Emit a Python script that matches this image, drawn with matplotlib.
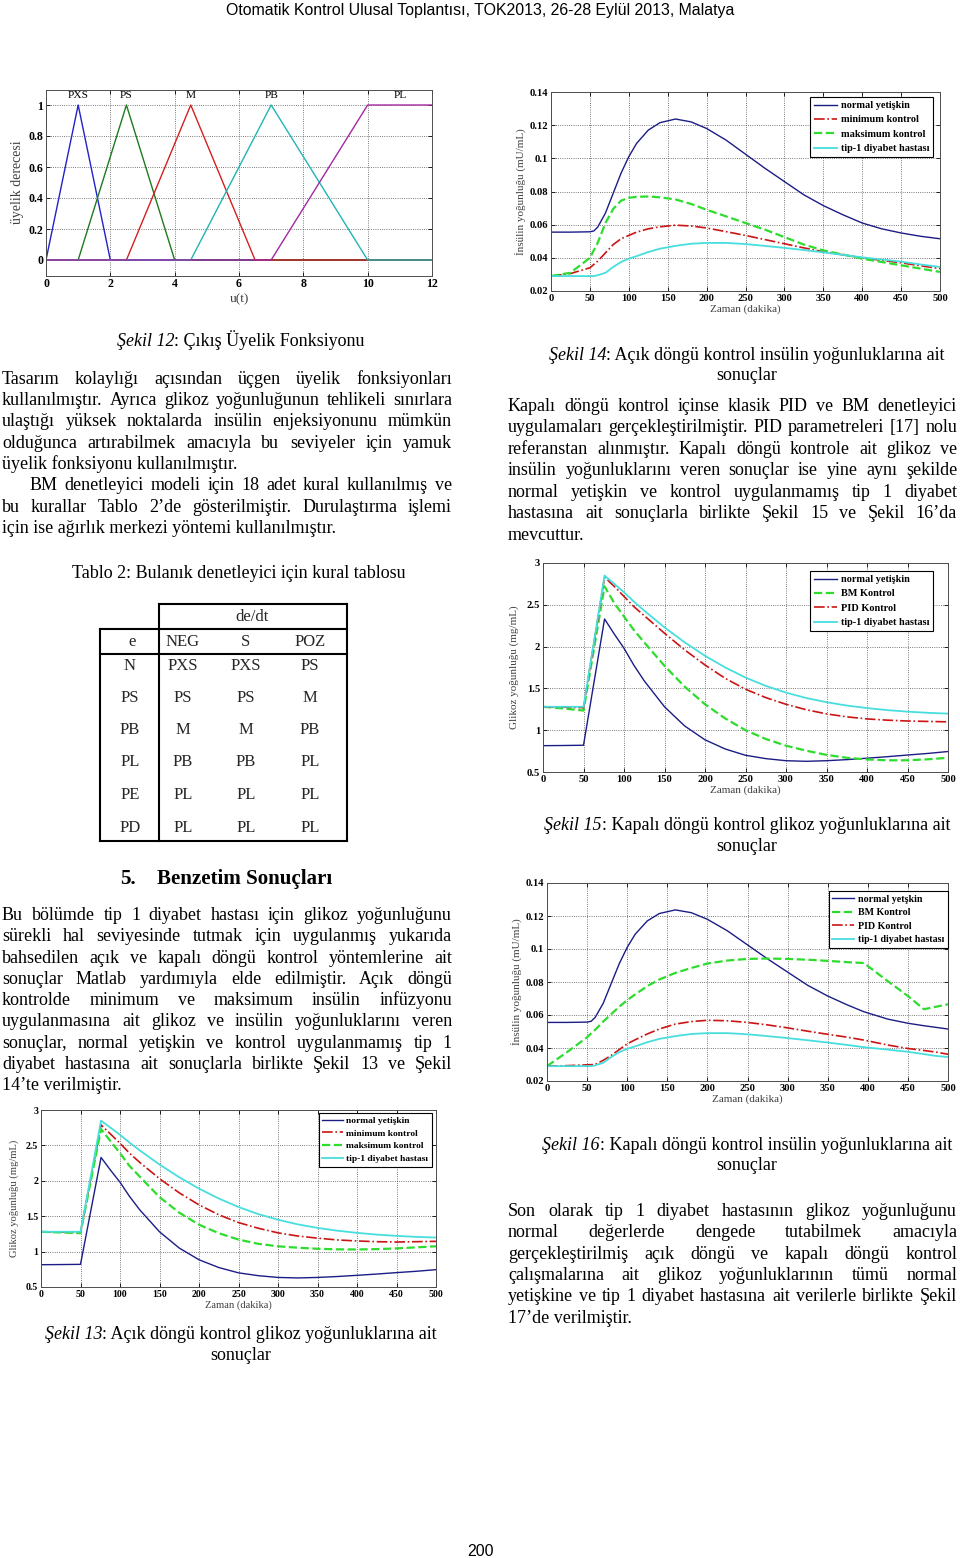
import numpy as np
import matplotlib
matplotlib.use('Agg')
import matplotlib.pyplot as plt
from matplotlib.lines import Line2D

W, H = 960, 1558
plt.rcParams['font.family'] = 'Liberation Serif'

# ---------------- data ----------------
# output membership functions (Sekil 12)
mf_names = ['PXS', 'PS', 'M', 'PB', 'PL']
mf_left = [0, 1, 2.5, 4.5, 7]
mf_peak = [1, 2.5, 4.5, 7, 10]
mf_right = [2, 4, 6.5, 10, 12]
mf_label_x = [1, 2.5, 4.5, 7, 11]

# glucose, open / closed loop (Sekil 13, 15)
t_glu = [0, 25, 50, 76, 88, 100, 112, 125, 150, 175, 200, 225, 250, 275,
         300, 325, 350, 375, 400, 425, 450, 475, 500]
glu_normal = [0.815, 0.817, 0.82, 2.33, 2.15, 1.98, 1.78, 1.59, 1.28, 1.05, 0.885,
              0.775, 0.70, 0.66, 0.635, 0.628, 0.635, 0.648, 0.665, 0.683, 0.703,
              0.722, 0.745]
glu_tip1 = [1.28, 1.28, 1.28, 2.85, 2.75, 2.65, 2.54, 2.43, 2.23, 2.05, 1.89, 1.75,
            1.63, 1.53, 1.45, 1.385, 1.335, 1.295, 1.265, 1.24, 1.222, 1.208, 1.198]
glu_min = [1.28, 1.275, 1.27, 2.79, 2.66, 2.53, 2.39, 2.26, 2.03, 1.83, 1.66, 1.52,
           1.41, 1.33, 1.265, 1.22, 1.19, 1.165, 1.15, 1.14, 1.135, 1.14, 1.145]
glu_max = [1.28, 1.27, 1.26, 2.73, 2.56, 2.39, 2.21, 2.06, 1.77, 1.55, 1.38, 1.26,
           1.17, 1.11, 1.075, 1.055, 1.04, 1.032, 1.03, 1.035, 1.045, 1.06, 1.075]
glu_bm = [1.28, 1.26, 1.235, 2.72, 2.52, 2.36, 2.2, 2.05, 1.77, 1.52, 1.31, 1.14,
          1.0, 0.895, 0.815, 0.755, 0.705, 0.67, 0.65, 0.64, 0.64, 0.652, 0.67]
glu_pid = [1.28, 1.275, 1.27, 2.83, 2.72, 2.6, 2.48, 2.37, 2.16, 1.96, 1.78, 1.62,
           1.49, 1.39, 1.31, 1.245, 1.195, 1.16, 1.135, 1.12, 1.11, 1.105, 1.1]

# insulin, open loop (Sekil 14)
t_ins = [0, 25, 50, 55, 60, 70, 80, 90, 100, 110, 125, 140, 160, 180, 200, 225, 250,
         275, 300, 325, 350, 375, 400, 425, 450, 475, 500]
ins_normal = [0.0555, 0.0555, 0.0557, 0.0562, 0.0585, 0.067, 0.079, 0.091, 0.101,
              0.109, 0.117, 0.1215, 0.1237, 0.122, 0.118, 0.111, 0.1025, 0.094,
              0.086, 0.078, 0.0715, 0.066, 0.061, 0.0575, 0.055, 0.053, 0.0515]
ins_max = [0.029, 0.031, 0.040, 0.0445, 0.049, 0.061, 0.0695, 0.0745, 0.0762, 0.0768,
           0.077, 0.0765, 0.0752, 0.0725, 0.069, 0.065, 0.061, 0.057, 0.0525, 0.048,
           0.0445, 0.042, 0.0395, 0.0375, 0.0355, 0.0335, 0.0315]
ins_min = [0.029, 0.0305, 0.034, 0.036, 0.038, 0.043, 0.048, 0.0515, 0.0535, 0.0555,
           0.0575, 0.0587, 0.0597, 0.0592, 0.058, 0.0558, 0.0535, 0.051, 0.0485, 0.046,
           0.0437, 0.0418, 0.040, 0.0385, 0.037, 0.0352, 0.0335]
ins_tip1 = [0.029, 0.029, 0.029, 0.029, 0.0295, 0.031, 0.0345, 0.0375, 0.0395, 0.041,
            0.0435, 0.0455, 0.0472, 0.0485, 0.049, 0.049, 0.0483, 0.0472, 0.046,
            0.0447, 0.0433, 0.0418, 0.0403, 0.039, 0.0377, 0.036, 0.0345]

# insulin, closed loop (Sekil 16)
t_ins2 = [0, 25, 50, 55, 60, 70, 80, 90, 100, 110, 125, 140, 160, 180, 200, 225, 250,
          275, 300, 325, 350, 375, 395, 425, 450, 470, 485, 500]
ins2_normal = [0.0555, 0.0555, 0.0557, 0.0562, 0.0585, 0.067, 0.079, 0.091, 0.101,
               0.109, 0.117, 0.1215, 0.1237, 0.122, 0.118, 0.111, 0.1025, 0.094,
               0.086, 0.078, 0.0715, 0.066, 0.062, 0.0575, 0.055, 0.0535, 0.0525,
               0.0515]
ins2_bm = [0.029, 0.0375, 0.0465, 0.0488, 0.051, 0.056, 0.0605, 0.065, 0.069, 0.0725,
           0.0775, 0.0815, 0.0855, 0.0885, 0.0912, 0.093, 0.094, 0.0942, 0.094, 0.0935,
           0.0928, 0.092, 0.0915, 0.0805, 0.0715, 0.0635, 0.065, 0.0665]
ins2_pid = [0.029, 0.0293, 0.0298, 0.0299, 0.030, 0.0325, 0.0355, 0.039, 0.0425,
            0.045, 0.0485, 0.0515, 0.0545, 0.056, 0.0568, 0.0565, 0.0555, 0.054,
            0.0522, 0.0502, 0.0483, 0.0465, 0.0448, 0.0418, 0.0397, 0.0385, 0.0375,
            0.0362]
ins2_tip1 = [0.029, 0.029, 0.029, 0.029, 0.0295, 0.031, 0.0345, 0.0375, 0.0395, 0.041,
             0.0435, 0.0455, 0.0472, 0.0485, 0.049, 0.049, 0.0483, 0.0472, 0.046,
             0.0447, 0.0433, 0.0418, 0.0405, 0.039, 0.0377, 0.0363, 0.0352, 0.0345]

# rule table (Tablo 2)
rule_cols = ['NEG', 'S', 'POZ']
rule_rows = ['N', 'PS', 'PB', 'PL', 'PE', 'PD']
rule_vals = [['PXS', 'PXS', 'PS'],
             ['PS', 'PS', 'M'],
             ['M', 'M', 'PB'],
             ['PB', 'PB', 'PL'],
             ['PL', 'PL', 'PL'],
             ['PL', 'PL', 'PL']]

NAVY = '#1c1c86'
RED = '#cc1414'
GREEN = '#2edc2e'
CYAN = '#48dede'

# ---------------- figure / helpers ----------------
fig = plt.figure(figsize=(W / 100, H / 100), dpi=100)
fig.patch.set_facecolor('white')
rend = fig.canvas.get_renderer()


def fx(x):
    return x / W


def fy(y):
    return 1 - y / H


def width(s, **kw):
    t = fig.text(0, 0, s, **kw)
    w = t.get_window_extent(renderer=rend).width
    t.remove()
    return w


def paragraph(lines, x0, x1, y, size, step, indent=0):
    for i, line in enumerate(lines):
        yy = y + i * step
        start = x0 + (indent if i == 0 else 0)
        if i == len(lines) - 1:
            fig.text(fx(start), fy(yy), line, size=size, va='baseline')
            continue
        words = line.split(' ')
        ws = [width(w, size=size) for w in words]
        gap = (x1 - start - sum(ws)) / (len(words) - 1)
        x = start
        for w, wd in zip(words, ws):
            fig.text(fx(x), fy(yy), w, size=size, va='baseline')
            x += wd + gap


def caption(parts, cx, y, size):
    ws = [width(s, size=size, style=st) for s, st in parts]
    x = cx - sum(ws) / 2
    for (s, st), wd in zip(parts, ws):
        fig.text(fx(x), fy(y), s, size=size, style=st, va='baseline')
        x += wd


def chart(x0, x1, ytop, ybot, xlim, ylim, xticks, yticks, tsize):
    ax = fig.add_axes([fx(x0), fy(ybot), (x1 - x0) / W, (ybot - ytop) / H])
    ax.set_xlim(xlim)
    ax.set_ylim(ylim)
    ax.set_xticks(xticks)
    ax.set_xticklabels([f'{v:g}' for v in xticks], fontweight='bold', fontsize=tsize)
    ax.set_yticks(yticks)
    ax.set_yticklabels([f'{v:g}' for v in yticks], fontweight='bold', fontsize=tsize)
    ax.grid(True, color='0.3', linestyle=':', linewidth=0.6)
    ax.tick_params(direction='in', length=3, width=0.6, top=True, right=True, pad=2)
    for s in ax.spines.values():
        s.set_linewidth(0.7)
        s.set_color('0.3')
    return ax


def legend(ax, xr, yt, size, spacing=0.5):
    lg = ax.legend(loc='upper right', bbox_to_anchor=(fx(xr), fy(yt)),
                   bbox_transform=fig.transFigure, borderaxespad=0,
                   prop=dict(weight='bold', size=size), fancybox=False,
                   framealpha=1, edgecolor='k', borderpad=0.38, labelspacing=spacing,
                   handlelength=2.2, handletextpad=0.35)
    lg.get_frame().set_linewidth(0.8)


# font sizes fitted to the page
BODY = 12 * 236 / width('üyelik fonksiyonu kullanılmıştır.', size=12)
HEAD = 14 * 176 / width('Benzetim Sonuçları', size=14, weight='bold')
HDR = 10 * 509 / width('Otomatik Kontrol Ulusal Toplantısı, TOK2013, 26-28 Eylül 2013, Malatya',
                       size=10, family='Liberation Sans')
TAB = BODY * 0.92

# ---------------- header / footer ----------------
fig.text(fx(480), fy(15), 'Otomatik Kontrol Ulusal Toplantısı, TOK2013, 26-28 Eylül 2013, Malatya',
         family='Liberation Sans', size=HDR, ha='center', va='baseline')
fig.text(fx(480), fy(1556), '200', family='Liberation Sans', size=HDR, ha='center', va='baseline')

# ---------------- Sekil 12: membership functions ----------------
ax = chart(46, 432, 89.5, 275.5, (0, 12), (-0.1, 1.1), range(0, 13, 2),
           [0, 0.2, 0.4, 0.6, 0.8, 1], 8.6)
mf_colors = ['#2222c8', '#1e7a1e', '#d42020', '#22b4b4', '#a428a4']
for i, name in enumerate(mf_names):
    if name == 'PL':
        xs = [0, mf_left[i], mf_peak[i], mf_right[i]]
        ys = [0, 0, 1, 1]
    else:
        xs = [0, mf_left[i], mf_peak[i], mf_right[i], 12]
        ys = [0, 0, 1, 0, 0]
    ax.plot(xs, ys, color=mf_colors[i], lw=1.0)
    ax.text(mf_label_x[i], 1.03, name, ha='center', va='bottom', fontsize=8.2)
ax.set_xlabel('u(t)', fontsize=9.5, color='0.25', labelpad=2)
ax.set_ylabel('üyelik derecesi', fontsize=10, color='0.25', labelpad=3)

caption([('Şekil 12', 'italic'), (': Çıkış Üyelik Fonksiyonu', 'normal')], 241, 345.5, BODY)

# ---------------- Sekil 14: insulin open loop ----------------
ax = chart(551, 940, 92, 291, (0, 500), (0.02, 0.14), range(0, 501, 50),
           [0.02, 0.04, 0.06, 0.08, 0.1, 0.12, 0.14], 7.6)
ax.plot(t_ins, ins_normal, color=NAVY, lw=1.0, label='normal yetişkin')
ax.plot(t_ins, ins_min, color=RED, lw=1.2, ls='-.', label='minimum kontrol')
ax.plot(t_ins, ins_max, color=GREEN, lw=1.6, ls='--', label='maksimum kontrol')
ax.plot(t_ins, ins_tip1, color=CYAN, lw=1.3, label='tip-1 diyabet hastası')
ax.set_xlabel('Zaman (dakika)', fontsize=8, color='0.25', labelpad=1)
ax.set_ylabel('İnsülin yoğunluğu (mU/mL)', fontsize=8, color='0.25', labelpad=2)
legend(ax, 933, 97, 7.4)

caption([('Şekil 14', 'italic'), (': Açık döngü kontrol insülin yoğunluklarına ait', 'normal')],
        747, 359.5, BODY)
caption([('sonuçlar', 'normal')], 747, 380.5, BODY)

# ---------------- Sekil 15: glucose closed loop ----------------
ax = chart(543, 948, 563, 772, (0, 500), (0.5, 3), range(0, 501, 50),
           [0.5, 1, 1.5, 2, 2.5, 3], 7.6)
ax.plot(t_glu, glu_normal, color=NAVY, lw=1.0, label='normal yetişkin')
ax.plot(t_glu, glu_bm, color=GREEN, lw=1.6, ls='--', label='BM Kontrol')
ax.plot(t_glu, glu_pid, color=RED, lw=1.2, ls='-.', label='PID Kontrol')
ax.plot(t_glu, glu_tip1, color=CYAN, lw=1.3, label='tip-1 diyabet hastası')
ax.set_xlabel('Zaman (dakika)', fontsize=8, color='0.25', labelpad=1)
ax.set_ylabel('Glikoz yoğunluğu (mg/mL)', fontsize=8, color='0.25', labelpad=6)
legend(ax, 933, 571, 7.4)

caption([('Şekil 15', 'italic'), (': Kapalı döngü kontrol glikoz yoğunluklarına ait', 'normal')],
        747, 830, BODY)
caption([('sonuçlar', 'normal')], 747, 851, BODY)

# ---------------- Sekil 16: insulin closed loop ----------------
ax = chart(547, 948, 883, 1081, (0, 500), (0.02, 0.14), range(0, 501, 50),
           [0.02, 0.04, 0.06, 0.08, 0.1, 0.12, 0.14], 7.6)
ax.plot(t_ins2, ins2_normal, color=NAVY, lw=1.0, label='normal yetşkin')
ax.plot(t_ins2, ins2_bm, color=GREEN, lw=1.6, ls='--', label='BM Kontrol')
ax.plot(t_ins2, ins2_pid, color=RED, lw=1.2, ls='-.', label='PID Kontrol')
ax.plot(t_ins2, ins2_tip1, color=CYAN, lw=1.3, label='tip-1 diyabet hastası')
ax.set_xlabel('Zaman (dakika)', fontsize=8, color='0.25', labelpad=1)
ax.set_ylabel('İnsülin yoğunluğu (mU/mL)', fontsize=8, color='0.25', labelpad=2)
legend(ax, 948, 891, 7.2, spacing=0.45)

caption([('Şekil 16', 'italic'), (': Kapalı döngü kontrol insülin yoğunluklarına ait', 'normal')],
        747, 1149.5, BODY)
caption([('sonuçlar', 'normal')], 747, 1170.5, BODY)

# ---------------- Sekil 13: glucose open loop ----------------
ax = chart(41, 436, 1110, 1287, (0, 500), (0.5, 3), range(0, 501, 50),
           [0.5, 1, 1.5, 2, 2.5, 3], 7.1)
ax.plot(t_glu, glu_normal, color=NAVY, lw=1.0, label='normal yetişkin')
ax.plot(t_glu, glu_min, color=RED, lw=1.2, ls='-.', label='minimum kontrol')
ax.plot(t_glu, glu_max, color=GREEN, lw=1.6, ls='--', label='maksimum kontrol')
ax.plot(t_glu, glu_tip1, color=CYAN, lw=1.3, label='tip-1 diyabet hastası')
ax.set_xlabel('Zaman (dakika)', fontsize=7.6, color='0.25', labelpad=1)
ax.set_ylabel('Glikoz yoğunluğu (mg/mL)', fontsize=7.6, color='0.25', labelpad=5)
legend(ax, 432, 1113, 6.8, spacing=0.42)

caption([('Şekil 13', 'italic'), (': Açık döngü kontrol glikoz yoğunluklarına ait', 'normal')],
        241, 1339, BODY)
caption([('sonuçlar', 'normal')], 241, 1360, BODY)

# ---------------- left column text ----------------
paragraph(['Tasarım kolaylığı açısından üçgen üyelik fonksiyonları',
           'kullanılmıştır. Ayrıca glikoz yoğunluğunun tehlikeli sınırlara',
           'ulaştığı yüksek noktalarda insülin enjeksiyonunu mümkün',
           'olduğunca artırabilmek amacıyla bu seviyeler için yamuk',
           'üyelik fonksiyonu kullanılmıştır.'], 2, 452, 383.5, BODY, 21.4)
paragraph(['BM denetleyici modeli için 18 adet kural kullanılmış ve',
           'bu kurallar Tablo 2’de gösterilmiştir. Durulaştırma işlemi',
           'için ise ağırlık merkezi yöntemi kullanılmıştır.'], 2, 452, 490.5, BODY, 21.4,
          indent=28)

caption([('Tablo 2: Bulanık denetleyici için kural tablosu', 'normal')], 239, 578, BODY)

# rule table
def hline(y, x0, x1):
    fig.add_artist(Line2D([fx(x0), fx(x1)], [fy(y), fy(y)], color='k', lw=1.5,
                          transform=fig.transFigure, solid_capstyle='projecting'))


def vline(x, y0, y1):
    fig.add_artist(Line2D([fx(x), fx(x)], [fy(y0), fy(y1)], color='k', lw=1.5,
                          transform=fig.transFigure, solid_capstyle='projecting'))


hline(604, 159, 347)
hline(629, 100, 347)
hline(654, 100, 347)
hline(841, 100, 347)
vline(100, 629, 841)
vline(159, 604, 841)
vline(347, 604, 841)
col_x = [183, 246, 310]
row_y = [666, 698, 730, 762.5, 795, 827.5]
fig.text(fx(252), fy(617), 'de/dt', size=TAB, ha='center', va='center', color='0.15')
fig.text(fx(132), fy(642), 'e', size=TAB, ha='center', va='center', color='0.15')
for cx, c in zip(col_x, rule_cols):
    fig.text(fx(cx), fy(642), c, size=TAB, ha='center', va='center', color='0.15')
for ry, r, vals in zip(row_y, rule_rows, rule_vals):
    fig.text(fx(130), fy(ry), r, size=TAB, ha='center', va='center', color='0.15')
    for cx, v in zip(col_x, vals):
        fig.text(fx(cx), fy(ry), v, size=TAB, ha='center', va='center', color='0.15')

fig.text(fx(120), fy(884), '5.', size=HEAD, weight='bold', va='baseline')
fig.text(fx(157), fy(884), 'Benzetim Sonuçları', size=HEAD, weight='bold', va='baseline')

paragraph(['Bu bölümde tip 1 diyabet hastası için glikoz yoğunluğunu',
           'sürekli hal seviyesinde tutmak için uygulanmış yukarıda',
           'bahsedilen açık ve kapalı döngü kontrol yöntemlerine ait',
           'sonuçlar Matlab yardımıyla elde edilmiştir. Açık döngü',
           'kontrolde minimum ve maksimum insülin infüzyonu',
           'uygulanmasına ait glikoz ve insülin yoğunluklarını veren',
           'sonuçlar, normal yetişkin ve kontrol uygulanmamış tip 1',
           'diyabet hastasına ait sonuçlarla birlikte Şekil 13 ve Şekil',
           '14’te verilmiştir.'], 2, 452, 920, BODY, 21.28)

# ---------------- right column text ----------------
paragraph(['Kapalı döngü kontrol içinse klasik PID ve BM denetleyici',
           'uygulamaları gerçekleştirilmiştir. PID parametreleri [17] nolu',
           'referanstan alınmıştır. Kapalı döngü kontrole ait glikoz ve',
           'insülin yoğunluklarını veren sonuçlar ise yine aynı şekilde',
           'normal yetişkin ve kontrol uygulanmamış tip 1 diyabet',
           'hastasına ait sonuçlarla birlikte Şekil 15 ve Şekil 16’da',
           'mevcuttur.'], 508, 957, 411, BODY, 21.43)

paragraph(['Son olarak tip 1 diyabet hastasının glikoz yoğunluğunu',
           'normal değerlerde dengede tutabilmek amacıyla',
           'gerçekleştirilmiş açık döngü ve kapalı döngü kontrol',
           'çalışmalarına ait glikoz yoğunluklarının tümü normal',
           'yetişkine ve tip 1 diyabet hastasına ait verilerle birlikte Şekil',
           '17’de verilmiştir.'], 508, 957, 1216, BODY, 21.35)

fig.savefig('out.png', dpi=100, facecolor='white')
